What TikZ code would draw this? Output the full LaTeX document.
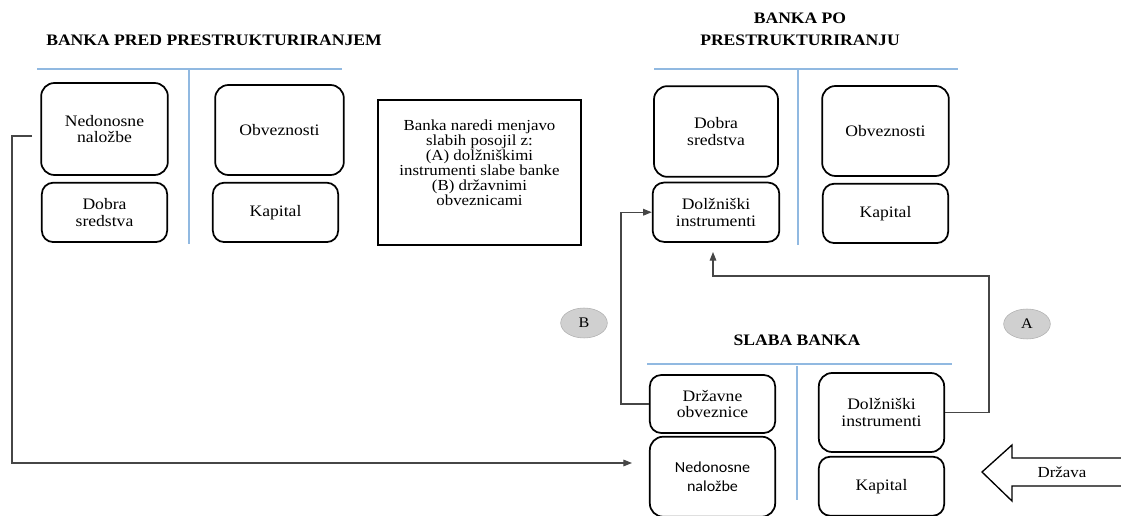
\documentclass[tikz,border=0pt]{standalone}
\usepackage{fontspec}
\setmainfont{Liberation Serif}[FakeStretch=1.1]
\newfontfamily\calibrifont{Carlito}[FakeStretch=1.05]
\usetikzlibrary{positioning,shapes.geometric,arrows.meta}
\definecolor{rulecol}{RGB}{145,185,225}
\definecolor{linkcol}{RGB}{70,70,70}
\definecolor{bubblefill}{RGB}{208,208,208}
\definecolor{bubbleline}{RGB}{175,175,175}
\tikzset{
  box/.style={draw, line width=1.3pt, rounded corners=10pt, inner sep=0pt,
    align=center, minimum width=94pt, font=\fontsize{12}{12.5}\selectfont},
  bigbox/.style={box, minimum height=68pt},
  smallbox/.style={box, minimum height=44.5pt, rounded corners=8.5pt},
  note/.style={draw, line width=1.4pt, inner sep=0pt, minimum width=152pt,
    minimum height=108.75pt, font=\fontsize{11.5}{10.7}\selectfont},
  title/.style={align=center, font=\fontsize{12}{16.5}\selectfont\bfseries},
  rule/.style={draw=rulecol, line width=0.8pt},
  link/.style={draw=linkcol, line width=0.8pt},
  arr/.style={link, -{Triangle[length=6.5pt,width=5pt]}},
  bubble/.style={ellipse, draw=bubbleline, fill=bubblefill, inner sep=0pt,
    minimum width=35pt, minimum height=22.5pt, font=\fontsize{11}{12}\selectfont}
}
\begin{document}
\begin{tikzpicture}[x=0.75pt, y=-0.75pt]
\useasboundingbox (0,0) rectangle (1121,516);

% Titles

\node[title] (tPred) at (214,40) {BANKA PRED PRESTRUKTURIRANJEM};
\node[title] (tPo) at (800,29) {BANKA PO\\PRESTRUKTURIRANJU};
\node[title] (tSlaba) at (797,340) {SLABA BANKA};

% Balance lines

\draw[rule] (37,69) -- (342,69); \draw[rule] (189,70) -- (189,244);
\draw[rule] (654,69) -- (958,69); \draw[rule] (798,70) -- (798,245);
\draw[rule] (647,364) -- (952,364); \draw[rule] (797,366) -- (797,500);

% Bank before

\node[bigbox, minimum width=95pt, minimum height=69pt] (nnL) at (104.5,129) {Nedonosne\\naložbe};
\node[smallbox, below=4.5pt of nnL] (dsL) {Dobra\\sredstva};
\node[bigbox, minimum width=96.5pt, minimum height=67.5pt] (obL) at (279.5,130) {Obveznosti};
\node[smallbox, below=4.5pt of obL, xshift=-3pt] (kpL) {Kapital};

\node[note] (order) at (479.5,172.5) {\raisebox{6pt}[\height][\depth]{%
  \begin{tabular}{@{}c@{}}Banka naredi menjavo\\slabih posojil z:\\(A) dolžniškimi\\
  instrumenti slabe banke\\(B) državnimi\\obveznicami\end{tabular}}};

% Bank after

\node[bigbox, minimum width=93pt] (dsR) at (716,131.5) {Dobra\\sredstva};
\node[smallbox, minimum width=95pt, below=3pt of dsR] (dolR) {Dolžniški\\instrumenti};
\node[bigbox, minimum width=95pt, minimum height=67.5pt] (obR) at (885.5,131) {Obveznosti};
\node[smallbox, below=4.5pt of obR] (kpR) {Kapital};

% Bad bank

\node[smallbox, minimum height=43.5pt] (drzS) at (712.5,404) {Državne\\obveznice};
\node[bigbox, minimum height=60pt, below=1.5pt of drzS,
  font=\calibrifont\fontsize{11.5}{13.5}\selectfont] (nnS) {Nedonosne\\naložbe};
\node[bigbox, minimum height=59.25pt] (dolS) at (881.5,412.5) {Dolžniški\\instrumenti};
\node[smallbox, minimum height=44.25pt, below=2.25pt of dolS] (kpS) {Kapital};

\node[bubble] (bubB) at (584,323) {B};
\node[bubble] (bubA) at (1027,324) {A};

% State

\draw[line width=1pt] (1121,458) -- (1012,458) -- (1012,445) -- (982,472)
  -- (1012,501) -- (1012,486) -- (1121,486);
\node[font=\fontsize{11.5}{12.5}\selectfont] (drzava) at (1062,472) {Država};

% Connect the nodes

\coordinate (nnLout) at (32,136);
\coordinate (nnSin) at (632,463);
\coordinate (aTip) at (713,252);
\draw[arr] (nnLout) -- ++(-20,0) |- (nnSin); %
\draw[arr] (drzS.west) -- ++(-28,0) |- (dolR.west); %
\draw[arr] (dolS.east) -| (989,276) -| (aTip); %

\end{tikzpicture}
\end{document}
